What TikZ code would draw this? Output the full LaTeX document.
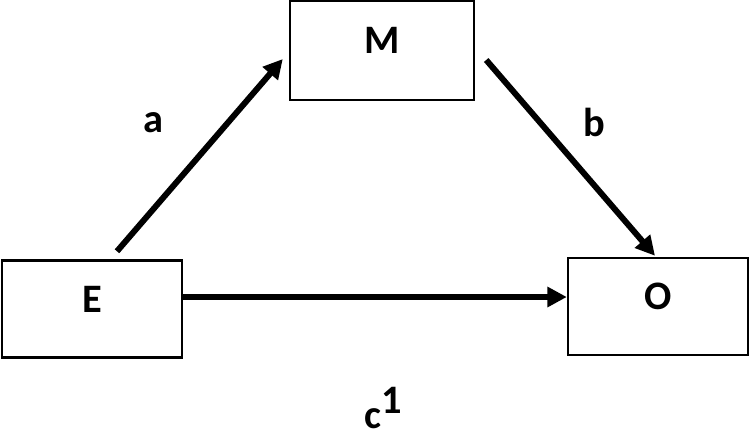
\documentclass[tikz,border=0pt]{standalone}
\usepackage{fontspec}
\setmainfont{Carlito}
\usepackage{tikz}
\usetikzlibrary{arrows.meta, positioning, calc}
\tikzset{
	varbox/.style  ={rectangle, draw=black, line width=1.4pt, minimum width=3.6cm, minimum height=1.94cm, text depth=0.4cm, align=center, font=\fontsize{23}{27}\selectfont\bfseries},
	pathlbl/.style ={font=\fontsize{23}{27}\selectfont\bfseries},
	effect/.style  ={-{Triangle[length=11pt, width=11pt]}, line width=3.4pt},
}
\begin{document}
\begin{tikzpicture}[x=0.02cm, y=-0.02cm]
	\useasboundingbox (0,0) rectangle (750,447);
	% variables
	\node[varbox, minimum width=3.68cm, minimum height=1.98cm] (M) at (382,50.5) {M};
	\node[varbox] (E) at (92,309) {E};
	\node[varbox] (O) at (658,306.5) {O};
	% paths
	\draw[effect] ($(E.north)+(25,-8)$) -- ($(M.west)+(-6,8.5)$);
	\draw[effect] ($(M.east)+(11,9.5)$) -- ($(O.north)+(-3,-1)$);
	\draw[effect] ($(E.east)+(0,-12)$) -- ($(O.west)+(0,-9.5)$);
	% labels
	\node[pathlbl] (la) at (153,123) {a};
	\node[pathlbl] (lb) at (594,122) {b};
	\node[pathlbl] (lc) at (384,408) {c$^{\textbf{1}}$};
\end{tikzpicture}
\end{document}
